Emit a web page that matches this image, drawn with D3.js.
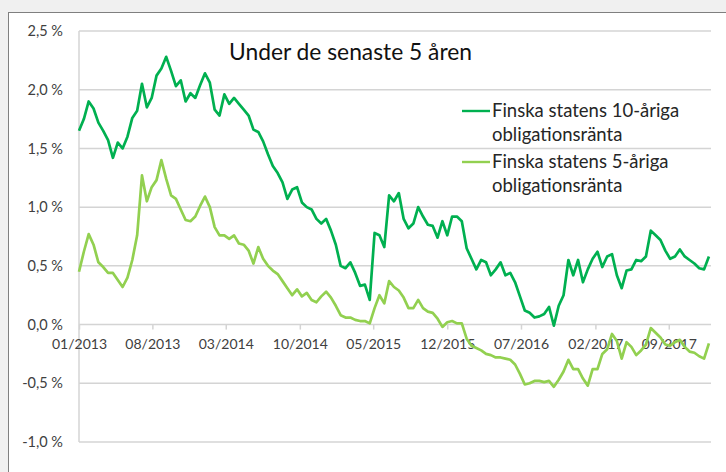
<!DOCTYPE html>
<html>
<head>
<meta charset="utf-8">
<script src="https://cdn.jsdelivr.net/npm/d3@7"></script>
<style>
  html, body { margin: 0; padding: 0; background: #f0f0f0; }
  svg { display: block; }
  text { font-family: Lato, "Open Sans", sans-serif; fill: #404040; }
</style>
</head>
<body>
<svg id="chart" width="726" height="472"></svg>
<script>
// ---- Data ----
const startDate = "2013-01-01";
const endDate = "2018-01-01";
const stepDays = 14; // one observation every two weeks

const yield10 = [
  1.65, 1.75, 1.90, 1.84, 1.72, 1.65, 1.57, 1.42, 1.55, 1.50,
  1.60, 1.76, 1.82, 2.05, 1.85, 1.93, 2.12, 2.18, 2.28, 2.16,
  2.03, 2.08, 1.90, 1.97, 1.93, 2.04, 2.14, 2.06, 1.83, 1.78,
  1.96, 1.88, 1.93, 1.88, 1.83, 1.78, 1.66, 1.64, 1.56, 1.45,
  1.35, 1.29, 1.21, 1.07, 1.15, 1.17, 1.04, 1.00, 0.98, 0.90,
  0.86, 0.90, 0.80, 0.68, 0.50, 0.48, 0.53, 0.44, 0.33, 0.34,
  0.21, 0.78, 0.76, 0.66, 1.10, 1.05, 1.12, 0.90, 0.82, 0.86,
  1.00, 0.92, 0.85, 0.84, 0.74, 0.88, 0.76, 0.92, 0.92, 0.88,
  0.65, 0.56, 0.47, 0.55, 0.53, 0.42, 0.47, 0.53, 0.42, 0.44,
  0.36, 0.24, 0.12, 0.10, 0.06, 0.07, 0.09, 0.15, -0.01, 0.16,
  0.25, 0.55, 0.42, 0.55, 0.36, 0.47, 0.56, 0.62, 0.49, 0.58,
  0.60, 0.42, 0.31, 0.46, 0.47, 0.55, 0.54, 0.58, 0.80, 0.76,
  0.72, 0.63, 0.56, 0.58, 0.64, 0.58, 0.55, 0.52, 0.48, 0.47,
  0.58
];

const yield5 = [
  0.45, 0.62, 0.77, 0.68, 0.53, 0.49, 0.44, 0.44, 0.38, 0.32,
  0.40, 0.55, 0.76, 1.27, 1.05, 1.17, 1.23, 1.40, 1.24, 1.10,
  1.07, 0.98, 0.89, 0.88, 0.92, 1.01, 1.09, 1.00, 0.83, 0.76,
  0.76, 0.73, 0.76, 0.69, 0.68, 0.63, 0.52, 0.66, 0.56, 0.50,
  0.46, 0.43, 0.37, 0.31, 0.25, 0.30, 0.24, 0.27, 0.21, 0.19,
  0.24, 0.28, 0.23, 0.16, 0.08, 0.06, 0.06, 0.04, 0.03, 0.03,
  0.01, 0.14, 0.25, 0.18, 0.37, 0.32, 0.29, 0.23, 0.14, 0.14,
  0.21, 0.14, 0.11, 0.10, 0.05, -0.02, 0.02, 0.03, 0.01, 0.01,
  -0.12, -0.18, -0.20, -0.22, -0.25, -0.26, -0.28, -0.28, -0.29, -0.30,
  -0.34, -0.42, -0.51, -0.50, -0.48, -0.48, -0.49, -0.48, -0.53, -0.47,
  -0.40, -0.30, -0.38, -0.38, -0.46, -0.52, -0.38, -0.38, -0.25, -0.21,
  -0.08, -0.14, -0.29, -0.15, -0.19, -0.26, -0.22, -0.17, -0.03, -0.07,
  -0.11, -0.17, -0.18, -0.15, -0.13, -0.19, -0.23, -0.24, -0.27, -0.29,
  -0.16
];

const yTicks = [2.5, 2.0, 1.5, 1.0, 0.5, 0.0, -0.5, -1.0];
const xTickLabels = ["01/2013", "08/2013", "03/2014", "10/2014", "05/2015",
                     "12/2015", "07/2016", "02/2017", "09/2017"];

const title = "Under de senaste 5 åren";
const seriesNames = [
  ["Finska statens 10-åriga", "obligationsränta"],
  ["Finska statens 5-åriga", "obligationsränta"]
];
const seriesColors = ["#00B050", "#92D050"];

// ---- Build ----
const parse = d3.timeParse("%Y-%m-%d");
const parseTick = d3.timeParse("%m/%Y");
const t0 = parse(startDate);
const dates = yield10.map((_, i) => d3.timeDay.offset(t0, i * stepDays));

const svg = d3.select("#chart");
const W = 726, H = 472;

// frame
svg.append("rect").attr("x", 0).attr("y", 0).attr("width", W).attr("height", H).attr("fill", "#f0f0f0");
svg.append("rect").attr("x", 8.5).attr("y", 12.5).attr("width", W).attr("height", H)
  .attr("fill", "#ffffff").attr("stroke", "#7f7f7f").attr("stroke-width", 1);

const x = d3.scaleTime().domain([t0, parse(endDate)]).range([79, 711]);
const y = d3.scaleLinear().domain([-1.0, 2.5]).range([442, 31]);

const fmt = v => d3.format(".1f")(v).replace(".", ",").replace("−", "-") + " %";

// gridlines
svg.append("g").selectAll("line").data(yTicks).join("line")
  .attr("x1", x.range()[0]).attr("x2", x.range()[1])
  .attr("y1", d => y(d)).attr("y2", d => y(d))
  .attr("stroke", "#d4d4d4").attr("stroke-width", 1.5);

// y axis line
svg.append("line")
  .attr("x1", x.range()[0]).attr("x2", x.range()[0])
  .attr("y1", y(2.5)).attr("y2", y(-1.0))
  .attr("stroke", "#d4d4d4").attr("stroke-width", 1.5);

// y labels
svg.append("g").selectAll("text").data(yTicks).join("text")
  .attr("x", 63).attr("y", d => y(d)).attr("dy", "0.35em")
  .attr("text-anchor", "end").style("font-size", "14.5px")
  .text(d => fmt(d));

// x axis at zero
const xTickDates = xTickLabels.map(s => parseTick(s));
const xAxis = d3.axisBottom(x).tickValues(xTickDates).tickFormat(d3.timeFormat("%m/%Y"))
  .tickSize(5).tickPadding(9);
const gx = svg.append("g").attr("transform", `translate(0,${y(0)})`).call(xAxis);
gx.select(".domain").remove();
gx.selectAll(".tick line").attr("stroke", "#d4d4d4").attr("stroke-width", 1.5);
gx.selectAll(".tick text").style("font-size", "14px").style("font-family", "Lato, sans-serif").attr("fill", "#404040");

// lines
const line = d3.line().x((d, i) => x(dates[i])).y(d => y(d)).curve(d3.curveLinear);
[yield10, yield5].forEach((s, k) => {
  svg.append("path").datum(s).attr("d", line)
    .attr("fill", "none").attr("stroke", seriesColors[k])
    .attr("stroke-width", 2.7).attr("stroke-linejoin", "round");
});

// title
svg.append("text").attr("x", 229).attr("y", 60).style("font-size", "22.8px")
  .style("fill", "#111").text(title);

// legend
const legY = [111, 162];
seriesNames.forEach((lines, k) => {
  svg.append("line").attr("x1", 462).attr("x2", 490).attr("y1", legY[k]).attr("y2", legY[k])
    .attr("stroke", seriesColors[k]).attr("stroke-width", 2.4);
  lines.forEach((t, j) => {
    svg.append("text").attr("x", 492).attr("y", legY[k] + j * 24).attr("dy", "0.35em")
      .style("font-size", "18.5px").style("fill", "#262626").text(t);
  });
});
</script>
</body>
</html>
